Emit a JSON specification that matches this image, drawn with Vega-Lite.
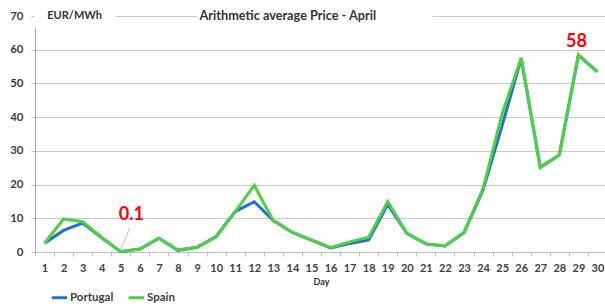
{
  "$schema": "https://vega.github.io/schema/vega-lite/v6.json",
  "width": 572,
  "height": 236,
  "autosize": {"type": "none"},
  "padding": {"left": 35, "top": 16, "right": 0, "bottom": 54},
  "background": "white",
  "config": {"view": {"stroke": null}, "font": "Lato"},
  "datasets": {
    "prices": [
      {"day": 1, "country": "Portugal", "price": 2.6}, {"day": 2, "country": "Portugal", "price": 6.4}, {"day": 3, "country": "Portugal", "price": 8.6}, {"day": 4, "country": "Portugal", "price": 4.2}, {"day": 5, "country": "Portugal", "price": 0.1}, {"day": 6, "country": "Portugal", "price": 0.9}, {"day": 7, "country": "Portugal", "price": 4.1}, {"day": 8, "country": "Portugal", "price": 0.5}, {"day": 9, "country": "Portugal", "price": 1.4}, {"day": 10, "country": "Portugal", "price": 4.6}, {"day": 11, "country": "Portugal", "price": 12.0}, {"day": 12, "country": "Portugal", "price": 14.9}, {"day": 13, "country": "Portugal", "price": 9.3}, {"day": 14, "country": "Portugal", "price": 5.8}, {"day": 15, "country": "Portugal", "price": 3.5}, {"day": 16, "country": "Portugal", "price": 1.2}, {"day": 17, "country": "Portugal", "price": 2.5}, {"day": 18, "country": "Portugal", "price": 3.6}, {"day": 19, "country": "Portugal", "price": 14.1}, {"day": 20, "country": "Portugal", "price": 5.5}, {"day": 21, "country": "Portugal", "price": 2.4}, {"day": 22, "country": "Portugal", "price": 1.8}, {"day": 23, "country": "Portugal", "price": 5.7}, {"day": 24, "country": "Portugal", "price": 18.4}, {"day": 25, "country": "Portugal", "price": 37.5}, {"day": 26, "country": "Portugal", "price": 57.4}, {"day": 27, "country": "Portugal", "price": 25.1}, {"day": 28, "country": "Portugal", "price": 28.8}, {"day": 29, "country": "Portugal", "price": 58.3}, {"day": 30, "country": "Portugal", "price": 53.4},
      {"day": 1, "country": "Spain", "price": 2.6}, {"day": 2, "country": "Spain", "price": 9.8}, {"day": 3, "country": "Spain", "price": 9.0}, {"day": 4, "country": "Spain", "price": 4.3}, {"day": 5, "country": "Spain", "price": 0.1}, {"day": 6, "country": "Spain", "price": 0.9}, {"day": 7, "country": "Spain", "price": 4.1}, {"day": 8, "country": "Spain", "price": 0.6}, {"day": 9, "country": "Spain", "price": 1.4}, {"day": 10, "country": "Spain", "price": 4.4}, {"day": 11, "country": "Spain", "price": 12.0}, {"day": 12, "country": "Spain", "price": 19.8}, {"day": 13, "country": "Spain", "price": 9.3}, {"day": 14, "country": "Spain", "price": 5.8}, {"day": 15, "country": "Spain", "price": 3.6}, {"day": 16, "country": "Spain", "price": 1.3}, {"day": 17, "country": "Spain", "price": 3.0}, {"day": 18, "country": "Spain", "price": 4.4}, {"day": 19, "country": "Spain", "price": 15.0}, {"day": 20, "country": "Spain", "price": 5.6}, {"day": 21, "country": "Spain", "price": 2.4}, {"day": 22, "country": "Spain", "price": 1.8}, {"day": 23, "country": "Spain", "price": 5.8}, {"day": 24, "country": "Spain", "price": 18.8}, {"day": 25, "country": "Spain", "price": 41.0}, {"day": 26, "country": "Spain", "price": 57.6}, {"day": 27, "country": "Spain", "price": 25.1}, {"day": 28, "country": "Spain", "price": 28.8}, {"day": 29, "country": "Spain", "price": 58.5}, {"day": 30, "country": "Spain", "price": 53.4}
    ],
    "masks": [
      {"day": 0.45, "day2": 4.7, "price": 66.5, "price2": 71},
      {"day": 9.0, "day2": 21.35, "price": 67, "price2": 71}
    ],
    "headings": [
      {"day": 2.58, "price": 69.9, "text": "EUR/MWh", "size": "small"},
      {"day": 13.76, "price": 69.9, "text": "Arithmetic average Price - April", "size": "big"}
    ],
    "leader": [
      {"day": 5.47, "day2": 5.0, "price": 7.2, "price2": 0.6}
    ],
    "labels": [
      {"day": 5.55, "price": 11.0, "text": "0.1"},
      {"day": 28.9, "price": 62.3, "text": "58"}
    ]
  },
  "encoding": {
    "x": {
      "field": "day", "type": "quantitative",
      "scale": {"domain": [0.5, 30.5], "nice": false, "zero": false},
      "axis": {
        "values": [1,2,3,4,5,6,7,8,9,10,11,12,13,14,15,16,17,18,19,20,21,22,23,24,25,26,27,28,29,30],
        "title": "Day", "titleFont": "Lato", "titleFontSize": 9, "titleFontWeight": "bold", "titleColor": "#333333", "titlePadding": 4,
        "grid": false, "domainColor": "#bfbfbf", "tickColor": "#bfbfbf", "tickSize": 4,
        "tickOffset": -9.53, "labelOffset": 9.53,
        "labelFont": "Lato", "labelFontSize": 11, "labelFontWeight": "bold", "labelColor": "#404040", "labelPadding": 6,
        "labelFlush": false, "labelOverlap": false
      }
    },
    "y": {
      "field": "price", "type": "quantitative",
      "scale": {"domain": [0, 70], "nice": false},
      "axis": {
        "values": [0, 10, 20, 30, 40, 50, 60, 70],
        "title": null, "gridColor": "#c8c8c8", "domainColor": "#a6a6a6", "tickColor": "#bfbfbf", "tickSize": 4,
        "labelFont": "Lato", "labelFontSize": 11.5, "labelFontWeight": "bold", "labelColor": "#404040", "labelPadding": 8,
        "labelOverlap": false
      }
    }
  },
  "layer": [
    {
      "data": {"name": "prices"},
      "mark": {"type": "line", "strokeWidth": 3},
      "encoding": {
        "color": {
          "field": "country", "type": "nominal",
          "scale": {"domain": ["Portugal", "Spain"], "range": ["#1f72c6", "#4fd044"]},
          "legend": {
            "title": null, "orient": "none", "direction": "horizontal", "legendX": 15, "legendY": 272,
            "symbolType": "stroke", "symbolSize": 240, "symbolStrokeWidth": 3,
            "labelFont": "Lato", "labelFontSize": 11.5, "labelFontWeight": "bold", "labelColor": "#404040",
            "labelOffset": 1, "columnPadding": 8
          }
        }
      }
    },
    {
      "data": {"name": "masks"},
      "mark": {"type": "rect", "fill": "white"},
      "encoding": {"x2": {"field": "day2"}, "y2": {"field": "price2"}}
    },
    {
      "data": {"name": "headings"},
      "transform": [{"filter": "datum.size === 'small'"}],
      "mark": {"type": "text", "font": "Lato", "fontSize": 11, "fontWeight": "bold", "color": "#333333", "baseline": "middle"},
      "encoding": {"text": {"field": "text"}}
    },
    {
      "data": {"name": "headings"},
      "transform": [{"filter": "datum.size === 'big'"}],
      "mark": {"type": "text", "font": "Lato", "fontSize": 12.7, "fontWeight": "bold", "color": "#333333", "baseline": "middle"},
      "encoding": {"text": {"field": "text"}}
    },
    {
      "data": {"name": "leader"},
      "mark": {"type": "rule", "color": "#bfbfbf", "strokeWidth": 1},
      "encoding": {"x2": {"field": "day2"}, "y2": {"field": "price2"}}
    },
    {
      "data": {"name": "labels"},
      "mark": {"type": "text", "font": "Lato", "fontSize": 18, "fontWeight": "bold", "color": "#ff0000", "baseline": "middle"},
      "encoding": {"text": {"field": "text"}}
    }
  ]
}
